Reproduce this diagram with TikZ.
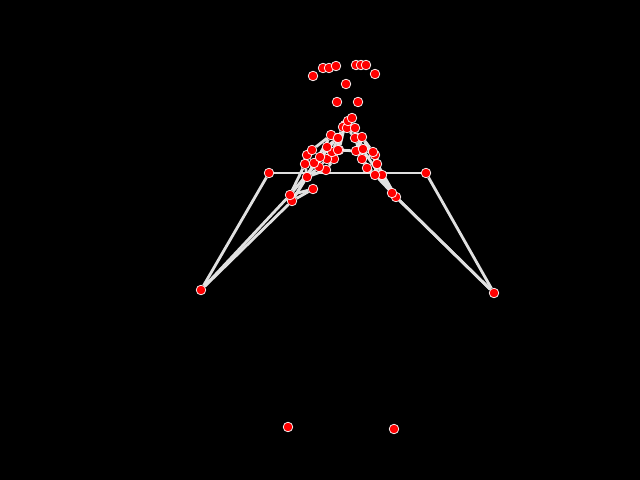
\documentclass[tikz,border=0pt]{standalone}
\usetikzlibrary{backgrounds}
\pgfdeclarelayer{canvas}
\pgfdeclarelayer{bones}
\pgfsetlayers{canvas,bones,main}

\begin{document}
\begin{tikzpicture}[
  x=0.025cm, y=-0.025cm,
  kp/.style={circle, fill=red, draw=white, line width=0.5pt, inner sep=0pt, minimum size=0.24cm},
  bone/.style={draw=white!88!black, line width=2pt}
]

% Canvas
\begin{pgfonlayer}{canvas}
\fill[black] (0,0) rectangle (640,480);
\end{pgfonlayer}
\useasboundingbox (0,0) rectangle (640,480);

% Face
\foreach \n/\x/\y in {nose/346/84, leyei/323/68, leye/329/68, leyeo/336/66,
  reyei/356/65, reye/361/65, reyeo/366/65, lear/313/76, rear/375/74,
  lmouth/337/102, rmouth/358/102}
  \node[kp] (\n) at (\x,\y) {};

% Body
\foreach \n/\x/\y in {lsh/269/173, rsh/426/173, lel/201/290, rel/494/293,
  lwr/292/201, lwrb/290/195, lth/313/189, rwr/396/197, rwrb/392/193, rth/382/175,
  lhip/288/427, rhip/394/429}
  \node[kp] (\n) at (\x,\y) {};

% Left hand
\foreach \n/\x/\y in {lh0/307/177,
  lh1/326/170, lh2/334/159, lh3/339/150, lh4/345/125,
  lh5/319/167, lh6/327/159, lh7/332/152, lh8/343/127,
  lh9/314/163, lh10/320/157, lh11/327/147, lh12/337/138,
  lh13/305/164, lh14/307/155, lh15/312/150, lh16/331/135}
  \node[kp] (\n) at (\x,\y) {};

% Right hand
\foreach \n/\x/\y in {rh0/375/175,
  rh1/367/168, rh2/356/151, rh3/338/150, rh4/338/138,
  rh5/362/159, rh6/355/138, rh7/347/128, rh8/348/121,
  rh9/375/155, rh10/363/149, rh11/355/128, rh12/352/118,
  rh13/377/164, rh14/373/152, rh15/362/137}
  \node[kp] (\n) at (\x,\y) {};

% Connections
\begin{pgfonlayer}{bones}
\foreach \a/\b in {lsh/rsh, lsh/lel, rsh/rel, lel/lwr, lel/lwrb, rel/rwr, rel/rwrb,
  lwr/lth, lwrb/lth, lwr/lh16, lwrb/lh12, lwr/lh0, lwrb/lh13,
  rwr/rth, rwrb/rth, rwr/rh15, rwrb/rh6, rwr/rh0, rwrb/rh13}
  \draw[bone] (\a) -- (\b);
\foreach \a/\b in {lh0/lh1, lh1/lh2, lh2/lh3, lh3/lh4, lh0/lh5, lh5/lh6, lh6/lh7, lh7/lh8,
  lh0/lh9, lh9/lh10, lh10/lh11, lh11/lh12, lh0/lh13, lh13/lh14, lh14/lh15, lh15/lh16,
  lh5/lh9, lh9/lh13}
  \draw[bone] (\a) -- (\b);
\foreach \a/\b in {rh0/rh1, rh1/rh2, rh2/rh3, rh3/rh4, rh0/rh5, rh5/rh6, rh6/rh7, rh7/rh8,
  rh0/rh9, rh9/rh10, rh10/rh11, rh11/rh12, rh0/rh13, rh13/rh14, rh14/rh15,
  rh5/rh9, rh9/rh13}
  \draw[bone] (\a) -- (\b);
\end{pgfonlayer}

\end{tikzpicture}
\end{document}
